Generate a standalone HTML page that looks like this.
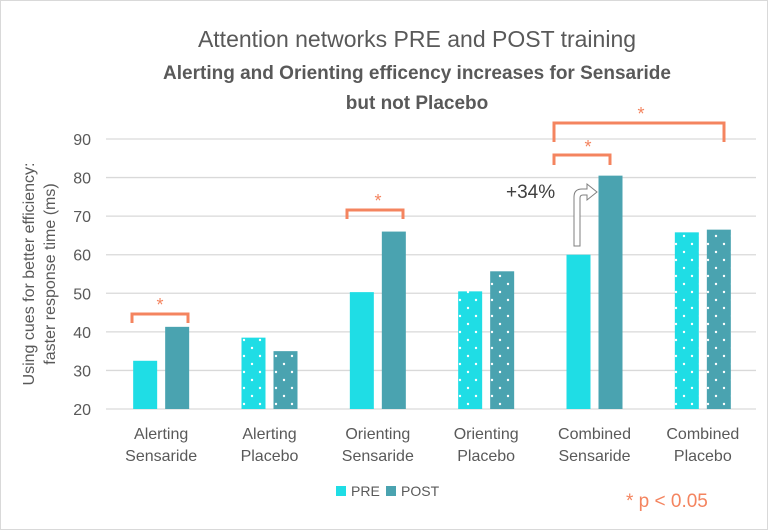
<!DOCTYPE html>
<html><head><meta charset="utf-8"><style>
body{margin:0;background:#fff;font-family:"Liberation Sans",sans-serif}
#wrap{position:relative;width:768px;height:530px;overflow:hidden;border:1px solid #d9d9d9;box-sizing:border-box}
</style></head><body>
<div id="wrap">
<svg id="chart" width="768" height="530">
<text x="416" y="46" text-anchor="middle" font-size="23" fill="#595959">Attention networks PRE and POST training</text>
<text x="416" y="78" text-anchor="middle" font-size="19" font-weight="bold" fill="#595959">Alerting and Orienting efficency increases for Sensaride</text>
<text x="416" y="108" text-anchor="middle" font-size="19" font-weight="bold" fill="#595959">but not Placebo</text>
<g transform="translate(33,273) rotate(-90)">
<text x="0" y="0" text-anchor="middle" font-size="16" fill="#595959">Using cues for better efficiency:</text>
<text x="0" y="21" text-anchor="middle" font-size="16" fill="#595959">faster response time (ms)</text>
</g>
<defs>
<pattern id="dotsPre" width="16" height="16" patternUnits="userSpaceOnUse"><rect width="16" height="16" fill="#1fdde5"/><circle cx="3" cy="3" r="1.2" fill="#fff"/><circle cx="11" cy="11" r="1.2" fill="#fff"/></pattern>
<pattern id="dotsPost" width="16" height="16" patternUnits="userSpaceOnUse"><rect width="16" height="16" fill="#4aa3b0"/><circle cx="3" cy="3" r="1.2" fill="#fff"/><circle cx="11" cy="11" r="1.2" fill="#fff"/></pattern>
</defs>
<g id="grid"></g><g id="bars"></g><g id="xlabels"></g>
<g fill="none" stroke="#f4845f" stroke-width="3">
<path d="M131,322 V313 H187 V322"/></g>
<text x="159" y="310" text-anchor="middle" font-size="18" fill="#f4845f">*</text>
<g fill="none" stroke="#f4845f" stroke-width="3"><path d="M346,218 V209 H402 V218"/></g>
<text x="377" y="206" text-anchor="middle" font-size="18" fill="#f4845f">*</text>
<g fill="none" stroke="#f4845f" stroke-width="3"><path d="M553,164 V154 H609 V164"/><path d="M553,141 V122 H723 V141"/></g>
<text x="587" y="152" text-anchor="middle" font-size="18" fill="#f4845f">*</text>
<text x="640" y="119" text-anchor="middle" font-size="18" fill="#f4845f">*</text>
<text x="505" y="197" font-size="19" fill="#404040">+34%</text>
<path d="M573,245 V196 Q573,188 581,188 H586 V183 L596,191 L586,199 V194 H582 Q579,194 579,197 V245 Z" fill="#fff" stroke="#7f7f7f" stroke-width="1"/>
<rect x="335" y="485" width="10" height="10" fill="#1fdde5"/>
<text x="350" y="495" font-size="14" fill="#595959">PRE</text>
<rect x="385" y="485" width="10" height="10" fill="#4aa3b0"/>
<text x="400" y="495" font-size="14" fill="#595959">POST</text>
<text x="625" y="506" font-size="19" fill="#f4845f">* p &lt; 0.05</text>
</svg></div>
<script>
const categories=[["Alerting","Sensaride"],["Alerting","Placebo"],["Orienting","Sensaride"],["Orienting","Placebo"],["Combined","Sensaride"],["Combined","Placebo"]];
const preValues=[32.5,38.5,50.3,50.5,60,65.8];
const postValues=[41.3,35,66,55.7,80.5,66.5];
const placeboFlags=[false,true,false,true,false,true];
const yTicks=[20,30,40,50,60,70,80,90];
const NS="http://www.w3.org/2000/svg";
const plotL=105,plotR=755,yMin=20,yMax=90,yTop=138,yBot=408;
const band=(plotR-plotL)/categories.length;
function y(v){return yBot-(v-yMin)/(yMax-yMin)*(yBot-yTop);}
function xc(i){return plotL+band*(i+0.5)+1;}
function mk(t,a,p){const e=document.createElementNS(NS,t);for(const k in a)e.setAttribute(k,a[k]);p.appendChild(e);return e;}
const grid=document.getElementById('grid');
yTicks.forEach(t=>{
 const l=mk('line',{x1:plotL,x2:plotR,y1:y(t),y2:y(t),stroke:'#d9d9d9','stroke-width':1.3},grid);
 
 
 const tx=mk('text',{x:90,y:y(t)+6,'text-anchor':'end','font-size':16,fill:'#595959'},grid);
 tx.textContent=t;
 
 
});
const bars=document.getElementById('bars'),xl=document.getElementById('xlabels');
categories.forEach((c,i)=>{
 const cx=xc(i),w=24;
 const p=mk('rect',{x:cx-w-4,y:y(preValues[i]),width:w,height:yBot-y(preValues[i]),fill:placeboFlags[i]?'url(#dotsPre)':'#1fdde5'},bars);
 
 
 const q=mk('rect',{x:cx+4,y:y(postValues[i]),width:w,height:yBot-y(postValues[i]),fill:placeboFlags[i]?'url(#dotsPost)':'#4aa3b0'},bars);
 
 
 c.forEach((s,j)=>{
  const t=mk('text',{x:cx,y:438+j*22,'text-anchor':'middle','font-size':16,fill:'#595959'},xl);
  t.textContent=s;
  
  
 });
});
</script>
</body></html>
